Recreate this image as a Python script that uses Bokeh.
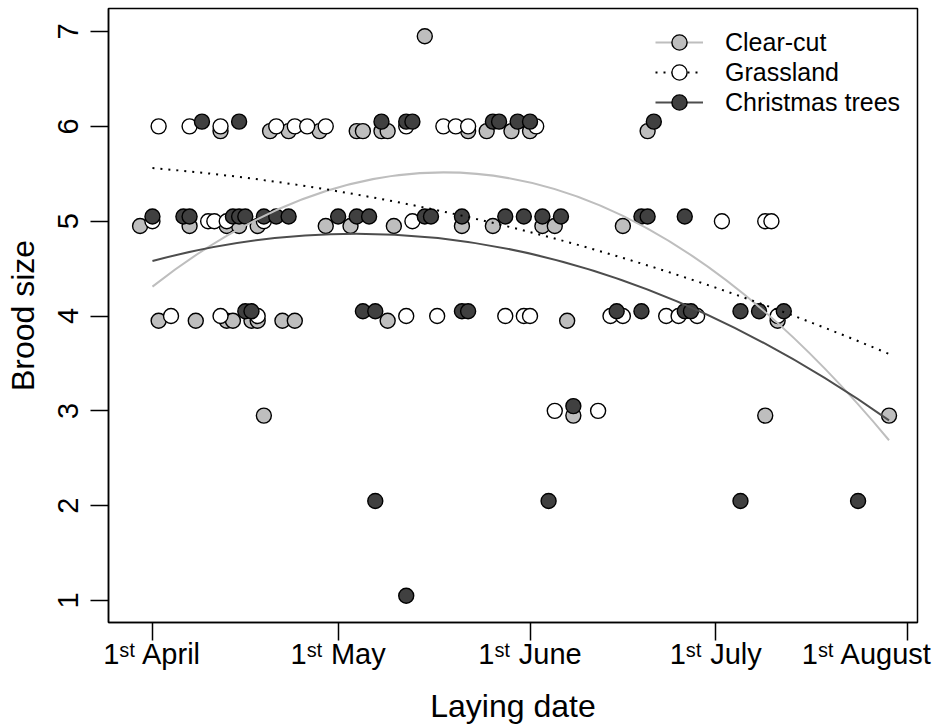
from bokeh.plotting import figure
from bokeh.models import Range1d, Legend, LegendItem, FixedTicker
from bokeh.embed import file_html
from bokeh.resources import INLINE

# ---------------- data (laying date = days after 1 April) ----------------
month_ticks = [0, 30, 61, 91, 122]
month_names = ["April", "May", "June", "July", "August"]
brood_ticks = [1, 2, 3, 4, 5, 6, 7]

clearcut_day = [44,
                11, 19, 22, 27, 33, 34, 37, 38, 51, 54, 58, 61, 80,
                -2, 6, 12, 14, 17, 28, 32, 39, 50, 55, 63, 65, 76,
                1, 7, 12, 13, 16, 17, 21, 23, 38, 67, 101,
                18, 68, 99, 119]
clearcut_brood = [7,
                  6, 6, 6, 6, 6, 6, 6, 6, 6, 6, 6, 6, 6,
                  5, 5, 5, 5, 5, 5, 5, 5, 5, 5, 5, 5, 5,
                  4, 4, 4, 4, 4, 4, 4, 4, 4, 4, 4,
                  3, 3, 3, 3]

grass_day = [1, 6, 11, 20, 23, 25, 28, 41, 47, 49, 51, 62,
             0, 9, 10, 12, 18, 42, 92, 99, 100,
             3, 11, 17, 41, 46, 57, 60, 61, 74, 76, 83, 85, 88, 101,
             65, 72]
grass_brood = [6, 6, 6, 6, 6, 6, 6, 6, 6, 6, 6, 6,
               5, 5, 5, 5, 5, 5, 5, 5, 5,
               4, 4, 4, 4, 4, 4, 4, 4, 4, 4, 4, 4, 4, 4,
               3, 3]

xmas_day = [8, 14, 37, 41, 42, 55, 56, 59, 61, 81,
            0, 5, 6, 13, 14, 15, 18, 20, 22, 30, 33, 35, 44, 45, 50, 57, 60, 63, 66, 79, 80, 86,
            15, 16, 34, 36, 50, 51, 75, 79, 86, 87, 95, 98, 102,
            68,
            36, 64, 95, 114,
            41]
xmas_brood = [6, 6, 6, 6, 6, 6, 6, 6, 6, 6,
              5, 5, 5, 5, 5, 5, 5, 5, 5, 5, 5, 5, 5, 5, 5, 5, 5, 5, 5, 5, 5, 5,
              4, 4, 4, 4, 4, 4, 4, 4, 4, 4, 4, 4, 4,
              3,
              2, 2, 2, 2,
              1]

# fitted quadratic curves, values read at start / middle / end day
fit_days = [0, 59.5, 119]
clearcut_fit = [4.31, 5.43, 2.69]
grass_fit = [5.56, 4.91, 3.60]
xmas_fit = [4.58, 4.68, 2.90]

# vertical display shift of each habitat (separates overlapping points)
SHIFT = {"clear": -0.05, "grass": 0.0, "xmas": 0.05}

FONT = "Liberation Sans"
LIGHT = "#bebebe"
DARK = "#404040"

p = figure(width=932, height=726,
           x_range=Range1d(-7.1, 123.6), y_range=Range1d(0.768, 7.243),
           output_backend="svg", toolbar_location=None,
           min_border_left=108, min_border_right=15,
           min_border_top=8, min_border_bottom=104,
           background_fill_color="white", border_fill_color="white")
p.xgrid.visible = False
p.ygrid.visible = False
p.outline_line_color = "black"
p.outline_line_width = 1.5
p.outline_line_alpha = 1.0

# points
cc = p.scatter(x=clearcut_day, y=[b + SHIFT["clear"] for b in clearcut_brood],
               size=15, fill_color=LIGHT, line_color="black", line_width=1.4)
gr = p.scatter(x=grass_day, y=[b + SHIFT["grass"] for b in grass_brood],
               size=15, fill_color="white", line_color="black", line_width=1.4)
xm = p.scatter(x=xmas_day, y=[b + SHIFT["xmas"] for b in xmas_brood],
               size=15, fill_color=DARK, line_color="black", line_width=1.4)


def curve(vals, **kw):
    y0, ym, y1 = vals
    return p.quadratic(x0=[fit_days[0]], y0=[y0], x1=[fit_days[2]], y1=[y1],
                       cx=[(fit_days[0] + fit_days[2]) / 2],
                       cy=[(4 * ym - y0 - y1) / 2], **kw)


cc_l = curve(clearcut_fit, line_color=LIGHT, line_width=2)
gr_l = curve(grass_fit, line_color="black", line_width=2, line_dash="2 6")
xm_l = curve(xmas_fit, line_color="#4d4d4d", line_width=2)

# legend: one single-row legend per habitat, stacked at the top right
legend_rows = [("Clear-cut", [cc_l, cc]),
               ("Grassland", [gr_l, gr]),
               ("Christmas trees", [xm_l, xm])]
for i, (lab, rends) in enumerate(legend_rows):
    lg = Legend(items=[LegendItem(label=lab, renderers=rends)],
                location=(547, 561 - 30 * i),
                glyph_width=48, glyph_height=38, padding=0, margin=0,
                label_standoff=22, label_height=38,
                label_text_font_size="25px", label_text_font=FONT,
                label_text_color="black",
                border_line_color=None, background_fill_alpha=0)
    p.add_layout(lg)

# x axis with "1st Month" labels
p.xaxis.ticker = FixedTicker(ticks=month_ticks)
p.xaxis.major_label_overrides = {t: "1\u02e2\u1d57 " + name
                                 for t, name in zip(month_ticks, month_names)}
p.xaxis.major_label_text_font_size = "29px"
p.xaxis.major_label_text_font = FONT
p.xaxis.major_label_text_color = "black"
p.xaxis.major_label_standoff = -3
p.xaxis.major_tick_out = 18
p.xaxis.major_tick_in = 0
p.xaxis.minor_tick_out = 0
p.xaxis.minor_tick_in = 0
p.xaxis.major_tick_line_width = 1.5
p.xaxis.axis_line_width = 1.5
p.xaxis.axis_label = "Laying date"
p.xaxis.axis_label_text_font_size = "32px"
p.xaxis.axis_label_text_font = FONT
p.xaxis.axis_label_text_font_style = "normal"
p.xaxis.axis_label_text_color = "black"
p.xaxis.axis_label_standoff = 15

# y axis
p.yaxis.ticker = FixedTicker(ticks=brood_ticks)
p.yaxis.major_label_orientation = "vertical"
p.yaxis.major_label_text_font_size = "29px"
p.yaxis.major_label_text_font = FONT
p.yaxis.major_label_text_color = "black"
p.yaxis.major_label_standoff = 12
p.yaxis.major_tick_out = 18
p.yaxis.major_tick_in = 0
p.yaxis.minor_tick_out = 0
p.yaxis.minor_tick_in = 0
p.yaxis.major_tick_line_width = 1.5
p.yaxis.axis_line_width = 1.5
p.yaxis.axis_label = "Brood size"
p.yaxis.axis_label_text_font_size = "32px"
p.yaxis.axis_label_text_font = FONT
p.yaxis.axis_label_text_font_style = "normal"
p.yaxis.axis_label_text_color = "black"
p.yaxis.axis_label_standoff = 15

open("out.html", "w").write(file_html(p, INLINE))
